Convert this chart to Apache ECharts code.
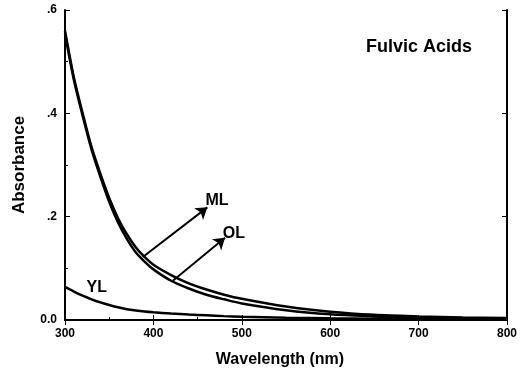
<!DOCTYPE html>
<html>
<head>
<meta charset="utf-8">
<script src="https://cdn.jsdelivr.net/npm/echarts@6/dist/echarts.min.js"></script>
<style>
  html, body { margin: 0; padding: 0; background: #fff; }
  #chart { width: 524px; height: 373px; }
</style>
</head>
<body>
<div id="chart"></div>
<script>
// wavelengths (nm) and absorbances
var wavelength = [300, 310, 320, 330, 340, 350, 360, 370, 380, 390, 400, 420, 440, 460, 480, 500, 550, 600, 650, 700, 750, 800];
var mlValues = [0.56, 0.47, 0.40, 0.335, 0.283, 0.236, 0.197, 0.166, 0.141, 0.122, 0.107, 0.087, 0.071, 0.059, 0.049, 0.041, 0.026, 0.016, 0.010, 0.007, 0.005, 0.004];
var olValues = [0.555, 0.465, 0.395, 0.33, 0.277, 0.229, 0.189, 0.157, 0.131, 0.113, 0.098, 0.076, 0.061, 0.049, 0.040, 0.032, 0.019, 0.011, 0.007, 0.004, 0.003, 0.002];
var ylValues = [0.064, 0.055, 0.047, 0.040, 0.034, 0.029, 0.0245, 0.021, 0.0185, 0.0165, 0.015, 0.0125, 0.0105, 0.009, 0.0075, 0.0065, 0.0045, 0.0033, 0.0025, 0.002, 0.0015, 0.001];

// annotation arrows: [from, to] in data units, and label positions
var mlArrow = [[388, 0.122], [461, 0.218]];
var olArrow = [[422, 0.076], [481, 0.159]];
var labelPoints = [
  { name: 'ML', coord: [472, 0.232] },
  { name: 'OL', coord: [491, 0.168] },
  { name: 'YL', coord: [336, 0.062] }
];

function pairs(ys) {
  return wavelength.map(function (x, i) { return [x, ys[i]]; });
}

var myChart = echarts.init(document.getElementById('chart'));

var fontFam = 'Liberation Sans, Arial, sans-serif';
var tickLabel = { color: '#000', fontFamily: fontFam, fontWeight: 'bold', fontSize: 12 };
var lineBase = { type: 'line', smooth: 0.3, symbol: 'none', lineStyle: { color: '#000', width: 2.5 }, z: 3 };

var option = {
  animation: false,
  backgroundColor: '#fff',
  grid: { left: 65, right: 17, top: 10, bottom: 53 },
  title: {
    text: 'Fulvic Acids',
    left: 361, top: 33,
    textStyle: { fontFamily: fontFam, fontWeight: 'bold', fontSize: 18, color: '#000' }
  },
  xAxis: [{
    type: 'value', min: 300, max: 800, interval: 100,
    name: 'Wavelength (nm)', nameLocation: 'middle', nameGap: 32,
    nameTextStyle: { fontFamily: fontFam, fontWeight: 'bold', fontSize: 16, color: '#000', padding: [0, 12, 0, 0] },
    axisLine: { show: true, lineStyle: { color: '#000', width: 2 } },
    axisTick: { show: true, inside: true, length: 5, lineStyle: { color: '#000' } },
    minorTick: { show: true, splitNumber: 2, length: 3, lineStyle: { color: '#000' } },
    axisLabel: tickLabel, splitLine: { show: false }
  }, {
    type: 'value', min: 300, max: 800, interval: 100, position: 'top',
    axisLine: { show: true, lineStyle: { color: '#000', width: 2 } },
    axisTick: { show: true, inside: true, length: 5, lineStyle: { color: '#000' } },
    axisLabel: { show: false }, splitLine: { show: false }
  }],
  yAxis: [{
    type: 'value', min: 0, max: 0.6, interval: 0.2,
    name: 'Absorbance', nameLocation: 'middle', nameGap: 37,
    nameTextStyle: { fontFamily: fontFam, fontWeight: 'bold', fontSize: 17, color: '#000' },
    axisLine: { show: true, lineStyle: { color: '#000', width: 2 } },
    axisTick: { show: true, inside: true, length: 5, lineStyle: { color: '#000' } },
    minorTick: { show: true, splitNumber: 2, length: 3, lineStyle: { color: '#000' } },
    axisLabel: Object.assign({
      formatter: function (v) { return v === 0 ? '0.0' : ('.' + Math.round(v * 10)); }
    }, tickLabel),
    splitLine: { show: false }
  }, {
    type: 'value', min: 0, max: 0.6, interval: 0.2, position: 'right',
    axisLine: { show: true, lineStyle: { color: '#000', width: 2 } },
    axisTick: { show: true, inside: true, length: 5, lineStyle: { color: '#000' } },
    axisLabel: { show: false }, splitLine: { show: false }
  }],
  series: [
    Object.assign({ name: 'ML', data: pairs(mlValues),
      markLine: {
        silent: true, symbol: ['none', 'arrow'], symbolSize: 11,
        lineStyle: { color: '#000', width: 2, type: 'solid' }, label: { show: false },
        data: [
          [{ coord: mlArrow[0] }, { coord: mlArrow[1] }],
          [{ coord: olArrow[0] }, { coord: olArrow[1] }]
        ]
      },
      markPoint: {
        silent: true, symbol: 'circle', symbolSize: 0,
        label: { show: true, position: 'inside', color: '#000', fontFamily: fontFam, fontWeight: 'bold', fontSize: 16,
          formatter: function (p) { return p.name; } },
        data: labelPoints
      }
    }, lineBase),
    Object.assign({ name: 'OL', data: pairs(olValues) }, lineBase),
    Object.assign({ name: 'YL', data: pairs(ylValues) }, lineBase)
  ]
};

myChart.setOption(option);
</script>
</body>
</html>
